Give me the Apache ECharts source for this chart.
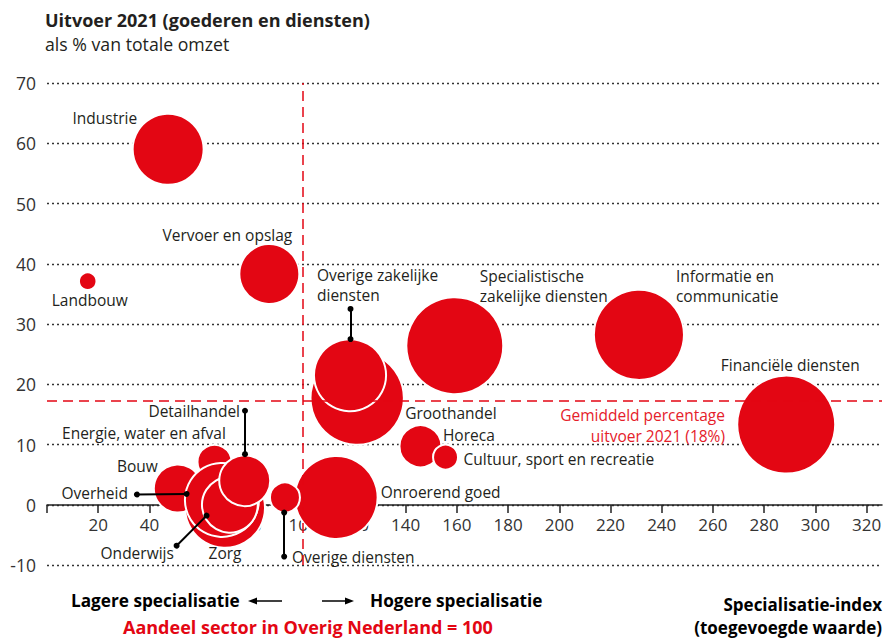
<!DOCTYPE html>
<html>
<head>
<meta charset="utf-8">
<script src="https://cdn.jsdelivr.net/npm/echarts@6/dist/echarts.min.js"></script>
<style>
html,body{margin:0;padding:0;background:#fff;}
#chart{width:890px;height:638px;}
</style>
</head>
<body>
<div id="chart"></div>
<script>
// ---- Data (draw order: back to front) ----
const sectors = ['Financiële diensten','Specialistische zakelijke diensten','Groothandel','Informatie en communicatie','Onroerend goed','Zorg','Bouw','Energie, water en afval','Overheid','Onderwijs','Detailhandel','Overige zakelijke diensten','Industrie','Vervoer en opslag','Horeca','Overige diensten','Cultuur, sport en recreatie','Landbouw'];
const specialisatieIndex = [288.6, 159.2, 121.1, 231.1, 112.9, 69.5, 51.1, 65.4, 68.3, 71.4, 77.2, 118.3, 47.3, 86.8, 145.8, 92.9, 155.6, 15.9];
const uitvoerPct = [13.3, 26.4, 17.7, 28.2, 1.2, -0.5, 2.7, 7.1, 0.8, 0.0, 4.0, 21.5, 59.0, 38.3, 9.7, 1.2, 7.9, 37.1];
const gewicht = [24.0, 23.5, 21.8, 20.3, 17.2, 16.0, 5.8, 2.9, 13.7, 7.8, 6.5, 13.0, 12.6, 9.0, 4.4, 2.25, 1.56, 0.77];
const gemiddeldeUitvoer = 17.2;
const referentieIndex = 100;
const xTicks = [0,20,40,60,80,100,120,140,160,180,200,220,240,260,280,300,320];
const xTickLabels = [20,40,60,80,100,120,140,160,180,200,220,240,260,280,300,320];
const yTicks = [-10,0,10,20,30,40,50,60,70];

// ---- Layout of annotations (pixels relative to bubble centre) ----
const RED = '#e30613';
const TXT = '#231f20';
const FONT = '"Open Sans"';
const labelLayout = {
  'Industrie': {text:'Industrie', offset:[-31,-31.5], align:'right'},
  'Vervoer en opslag': {text:'Vervoer en opslag', offset:[-42,-39], align:'center'},
  'Landbouw': {text:'Landbouw', offset:[2,19], align:'center'},
  'Overige zakelijke diensten': {text:'Overige zakelijke\ndiensten', offset:[-33,-90], align:'left'},
  'Specialistische zakelijke diensten': {text:'Specialistische\nzakelijke diensten', offset:[25,-60], align:'left'},
  'Informatie en communicatie': {text:'Informatie en\ncommunicatie', offset:[37,-49], align:'left'},
  'Financiële diensten': {text:'Financiële diensten', offset:[4,-60], align:'center'},
  'Groothandel': {text:'Groothandel', offset:[48,15], align:'left'},
  'Horeca': {text:'Horeca', offset:[22.5,-11.5], align:'left'},
  'Cultuur, sport en recreatie': {text:'Cultuur, sport en recreatie', offset:[18,2], align:'left'},
  'Onroerend goed': {text:'Onroerend goed', offset:[44.5,-6], align:'left'},
  'Overige diensten': {text:'Overige diensten', offset:[7,59], align:'left'},
  'Detailhandel': {text:'Detailhandel', offset:[-4.7,-70], align:'right'},
  'Energie, water en afval': {text:'Energie, water en afval', offset:[11.3,-29], align:'right'},
  'Bouw': {text:'Bouw', offset:[-20,-22], align:'right'},
  'Overheid': {text:'Overheid', offset:[-94,-7], align:'right'},
  'Onderwijs': {text:'Onderwijs', offset:[-56,48], align:'right'},
  'Zorg': {text:'Zorg', offset:[0,45], align:'center'}
};
// leader lines in data coordinates
const leaders = [
  [[35.1,1.7],[54.5,1.8]],
  [[50.6,-6.8],[62.3,-1.8]],
  [[77.3,15.6],[77.3,8.4]],
  [[118.5,32.5],[118.5,27.5]],
  [[92.6,-1.3],[92.6,-8.6]]
];

const bubbleData = sectors.map((s,i) => {
  const L = labelLayout[s];
  const multi = L.text.indexOf('\n') >= 0;
  return {
    name: s,
    value: [specialisatieIndex[i], uitvoerPct[i], gewicht[i]],
    label: {show:true, formatter: L.text, position:'inside', offset:L.offset, align:L.align, verticalAlign:'middle', lineHeight: multi ? 20 : 15}
  };
});

const chart = echarts.init(document.getElementById('chart'), null, {renderer:'svg'});
chart.setOption({
  animation:false,
  backgroundColor:'#fff',
  textStyle:{fontFamily:FONT},
  grid:{left:47, right:8, top:83, bottom:73, containLabel:false},
  xAxis:{
    type:'value', min:0, max:326, interval:20,
    offset:-60,
    axisLine:{show:true, onZero:false, lineStyle:{color:'#222', width:1.5}},
    axisTick:{show:true, length:8, customValues:xTicks, lineStyle:{color:'#222', width:1.5}},
    axisLabel:{customValues:xTickLabels, color:'#333', fontSize:17, fontFamily:FONT, margin:11},
    splitLine:{show:false}
  },
  yAxis:{
    type:'value', min:-10, max:70, interval:10,
    axisLine:{show:false}, axisTick:{show:false},
    axisLabel:{color:'#333', fontSize:17.5, fontFamily:FONT, margin:11},
    splitLine:{show:true, lineStyle:{color:'#333', width:1.3, type:[2,3]}}
  },
  series:[
    {
      type:'scatter', data:[], silent:true, z:1,
      markLine:{
        silent:true, symbol:'none', animation:false,
        lineStyle:{color:RED, width:1.5, type:[10,6]},
        label:{show:false},
        data:[{xAxis:referentieIndex},{yAxis:gemiddeldeUitvoer}]
      }
    },
    {
      type:'scatter', z:3, silent:true,
      data:bubbleData,
      symbolSize:(v)=>20*Math.sqrt(v[2]),
      itemStyle:{color:RED, opacity:1, borderColor:'#fff', borderWidth:2},
      label:{color:TXT, fontSize:15.5, fontFamily:FONT},
      emphasis:{disabled:true}
    },
    {
      type:'scatter', data:[], silent:true, z:5,
      markLine:{
        silent:true, animation:false,
        symbol:['circle','circle'], symbolSize:6,
        lineStyle:{color:'#000', width:2, type:'solid'},
        itemStyle:{color:'#000'},
        label:{show:false},
        data: leaders.map(l => [{coord:l[0]},{coord:l[1]}])
      }
    }
  ],
  graphic:[
    {type:'text', x:45, y:20, style:{text:'Uitvoer 2021 (goederen en diensten)', font:'bold 18px '+FONT, fill:TXT, verticalAlign:'middle'}},
    {type:'text', x:45, y:44, style:{text:'als % van totale omzet', font:'17.7px '+FONT, fill:TXT, verticalAlign:'middle'}},
    {type:'text', z:10, x:725, y:425.5, style:{text:'Gemiddeld percentage\nuitvoer 2021 (18%)', font:'15.5px '+FONT, fill:'#e5202a', align:'right', verticalAlign:'middle', lineHeight:21}},
    {type:'text', x:71, y:600, style:{text:'Lagere specialisatie', font:'bold 17.2px '+FONT, fill:'#000', verticalAlign:'middle'}},
    {type:'line', shape:{x1:254, y1:601, x2:282, y2:601}, style:{stroke:'#000', lineWidth:1.5}},
    {type:'polygon', shape:{points:[[248,601],[257,597.5],[257,604.5]]}, style:{fill:'#000'}},
    {type:'line', shape:{x1:322, y1:601, x2:350, y2:601}, style:{stroke:'#000', lineWidth:1.5}},
    {type:'polygon', shape:{points:[[354,601],[345,597.5],[345,604.5]]}, style:{fill:'#000'}},
    {type:'text', x:370, y:600, style:{text:'Hogere specialisatie', font:'bold 17.2px '+FONT, fill:'#000', verticalAlign:'middle'}},
    {type:'text', x:123, y:627, style:{text:'Aandeel sector in Overig Nederland = 100', font:'bold 18px '+FONT, fill:RED, verticalAlign:'middle'}},
    {type:'text', x:882, y:604, style:{text:'Specialisatie-index', font:'bold 17px '+FONT, fill:'#000', align:'right', verticalAlign:'middle'}},
    {type:'text', x:882, y:627, style:{text:'(toegevoegde waarde)', font:'bold 17px '+FONT, fill:'#000', align:'right', verticalAlign:'middle'}}
  ]
});
</script>
</body>
</html>
